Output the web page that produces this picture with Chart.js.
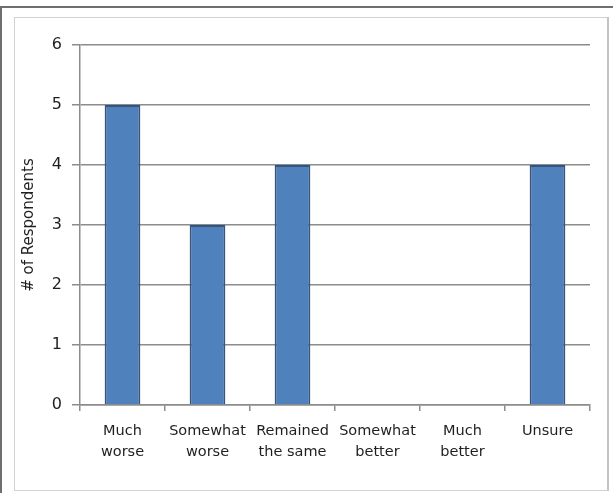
<!DOCTYPE html>
<html>
<head>
<meta charset="utf-8">
<script src="https://cdn.jsdelivr.net/npm/chart.js@4"></script>
<style>
  html, body { margin: 0; padding: 0; background: #fff; }
  #wrap { position: relative; width: 613px; height: 493px; overflow: hidden; }
  #outerTop { position: absolute; left: 0; top: 6px; width: 613px; height: 2px; background: #6f6f6f; }
  #outerLeft { position: absolute; left: 0; top: 6px; width: 2px; height: 487px; background: #6f6f6f; }
  #inner { position: absolute; left: 14px; top: 17px; width: 592px; height: 472px; border: 1px solid #d2d2d2; border-right: 2px solid #c4c4c4; }
  canvas { position: absolute; left: 0; top: 0; }
</style>
</head>
<body>
<div id="wrap">
  <div id="outerTop"></div>
  <div id="outerLeft"></div>
  <div id="inner"></div>
  <canvas id="c" width="613" height="493"></canvas>
</div>
<script>
const categories = [
  ["Much", "worse"],
  ["Somewhat", "worse"],
  ["Remained", "the same"],
  ["Somewhat", "better"],
  ["Much", "better"],
  ["Unsure"]
];
const respondents = [5, 3, 4, 0, 0, 4];
const yTicks = [0, 1, 2, 3, 4, 5, 6];
const yTitle = "# of Respondents";

new Chart(document.getElementById("c"), {
  type: "bar",
  data: {
    labels: categories,
    datasets: [{
      data: respondents,
      backgroundColor: "#4f81bd",
      borderColor: "#34557f",
      borderWidth: 2,
      categoryPercentage: 1.0,
      barPercentage: 0.42
    }]
  },
  options: {
    responsive: false,
    animation: false,
    events: [],
    layout: { padding: { left: 0, right: 23, top: 45, bottom: 0 } },
    plugins: { legend: { display: false }, tooltip: { enabled: false } },
    scales: {
      x: {
        afterFit: s => { s.height = 88; },
        grid: { display: true, drawOnChartArea: false, drawTicks: true, tickLength: 6, offset: true, color: "#8c8c8c", lineWidth: 1.5 },
        border: { display: true, color: "#8c8c8c", width: 1.5 },
        ticks: {
          color: "#1f1f1f",
          padding: 9,
          maxRotation: 0,
          autoSkip: false,
          font: { family: "DejaVu Sans", size: 14.5, lineHeight: 1.5 }
        }
      },
      y: {
        min: 0,
        max: 6,
        afterFit: s => { s.width = 80; },
        afterBuildTicks: s => { s.ticks = yTicks.map(v => ({ value: v })); },
        grid: { color: "#8c8c8c", lineWidth: 1.5, tickLength: 8, drawTicks: true },
        border: { display: true, color: "#8c8c8c", width: 1.5 },
        ticks: {
          color: "#1f1f1f",
          padding: 10,
          font: { family: "DejaVu Sans", size: 16 }
        },
        title: {
          display: true,
          text: yTitle,
          color: "#1f1f1f",
          padding: { top: 20, bottom: 0 },
          font: { family: "DejaVu Sans", size: 15 }
        }
      }
    }
  }
});
</script>
</body>
</html>
